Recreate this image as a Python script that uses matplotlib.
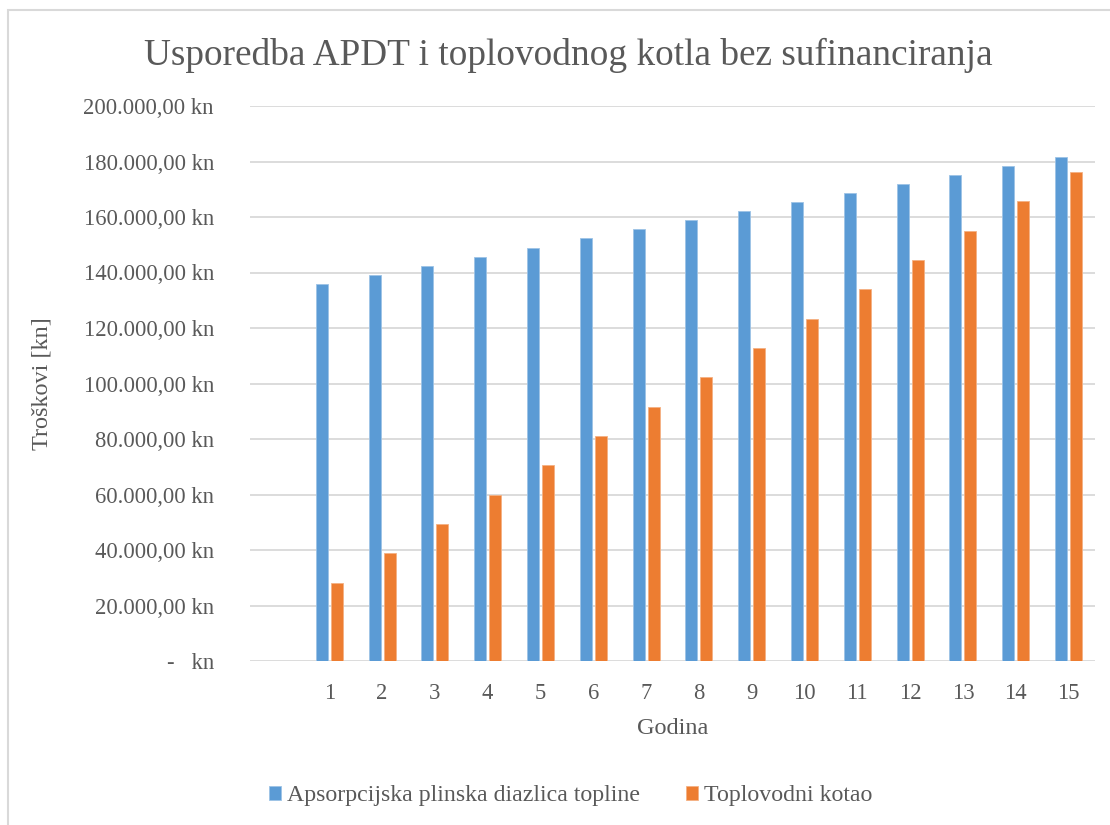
import matplotlib.pyplot as plt
import numpy as np

# godina 0 nema vrijednosti (prazna kategorija kao u Excelu)
godine = ['', '1', '2', '3', '4', '5', '6', '7', '8', '9', '10', '11', '12', '13', '14', '15']
apdt = [0, 135900, 139200, 142500, 145700, 149000, 152300, 155600, 158800,
        162100, 165400, 168600, 171900, 175200, 178400, 181700]
kotao = [0, 28200, 38800, 49400, 59900, 70500, 81100, 91600, 102200,
         112800, 123300, 133900, 144500, 155100, 165600, 176200]
yticks = [0, 20000, 40000, 60000, 80000, 100000, 120000, 140000, 160000, 180000, 200000]

siva = '#595959'
plt.rcParams['font.family'] = ['Liberation Serif', 'DejaVu Serif']


def kn(v):
    if v == 0:
        return '-   kn'
    s = f'{v:,.2f}'.replace(',', 'X').replace('.', ',').replace('X', '.')
    return s + ' kn'


fig = plt.figure(figsize=(11.1, 8.25), dpi=100)
ax = fig.add_axes([250 / 1110, 1 - 661 / 825, 845 / 1110, 555 / 825])

x = np.arange(len(godine))
w = 0.228
ax.bar(x - 0.142, apdt, w, color='#5B9BD5', edgecolor='#9DC3E6', linewidth=0.6,
       label='Apsorpcijska plinska diazlica topline', zorder=3)
ax.bar(x + 0.142, kotao, w, color='#ED7D31', edgecolor='#F4B183', linewidth=0.6,
       label='Toplovodni kotao', zorder=3)

ax.set_xlim(-0.5, len(godine) - 0.5)
ax.set_ylim(0, 200000)
ax.set_yticks(yticks)
ax.set_yticklabels([kn(v) for v in yticks])
ax.set_xticks(x)
ax.set_xticklabels(godine)
ax.tick_params(length=0, labelsize=16.3, colors=siva)
ax.tick_params(axis='y', pad=26)
ax.tick_params(axis='x', pad=16)
ax.grid(axis='y', color='#D9D9D9', linewidth=1.3, zorder=0)
for s in ax.spines.values():
    s.set_visible(False)

ax.set_xlabel('Godina', fontsize=17.5, color=siva, labelpad=10)
ax.set_ylabel('Troškovi [kn]', fontsize=17.5, color=siva, labelpad=22)
fig.text(0.512, 1 - 55 / 825, 'Usporedba APDT i toplovodnog kotla bez sufinanciranja',
         ha='center', va='center', fontsize=26.8, color=siva)

fig.legend(loc='center', bbox_to_anchor=(0.514, 1 - 796 / 825), ncol=2, frameon=False,
           fontsize=17.2, labelcolor=siva, handlelength=0.5, handleheight=0.5,
           handletextpad=0.25, columnspacing=1.95)

# okvir grafikona (desni i donji rub izlaze izvan slike)
fig.patches.append(plt.Rectangle((8 / 1110, -0.01), 1.05, 1 - 10 / 825 + 0.01,
                                 transform=fig.transFigure,
                                 fill=False, edgecolor='#D9D9D9', linewidth=1.5))

fig.savefig('out.png', dpi=100)
